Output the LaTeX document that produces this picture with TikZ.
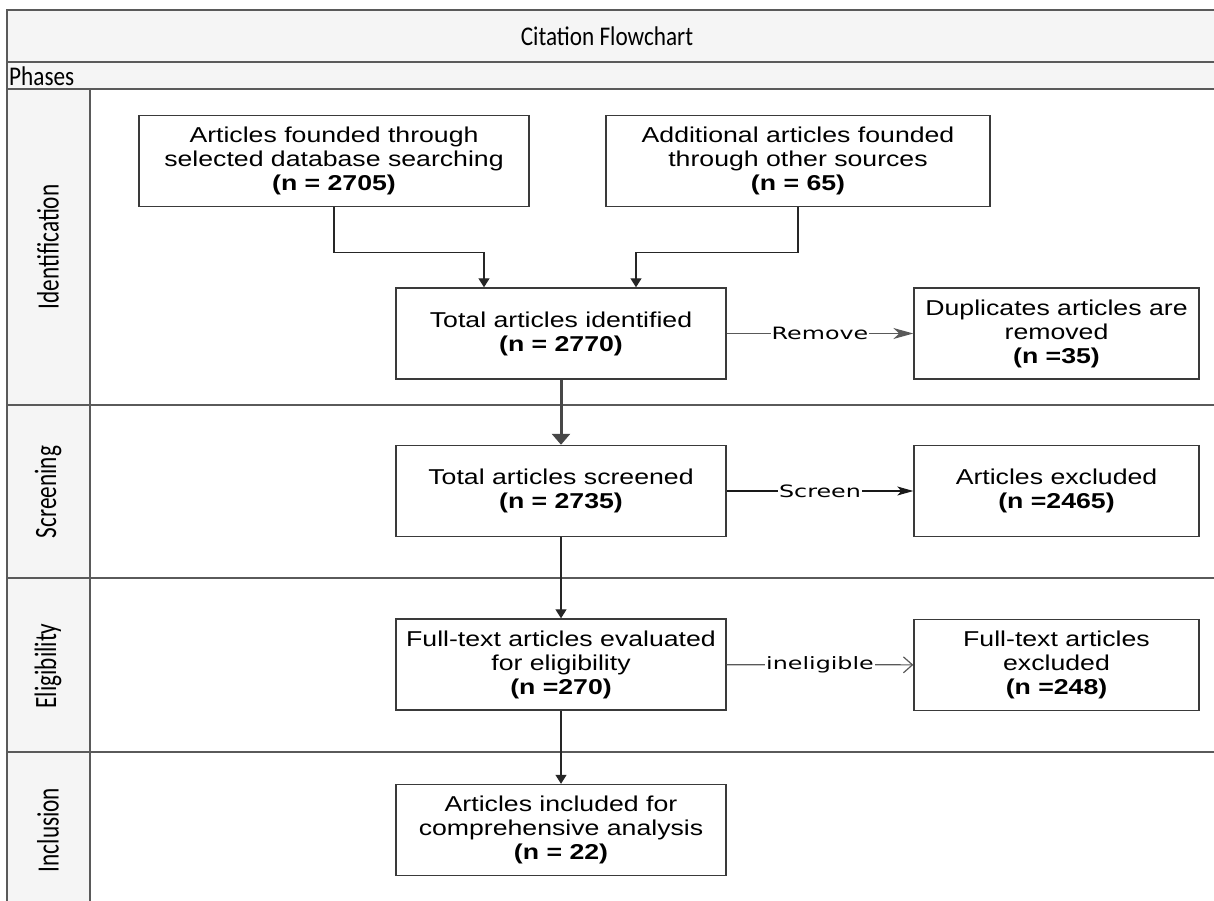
\documentclass[tikz,border=0pt]{standalone}
\usepackage{fontspec}
\setmainfont[FakeStretch=1.24]{Liberation Sans}
\newfontfamily\lanefont[FakeStretch=0.75]{Carlito}
\newfontfamily\titlefont[FakeStretch=0.86]{Carlito}
\newfontfamily\edgefont[FakeStretch=1.4]{DejaVu Sans}
\usetikzlibrary{arrows.meta}
\definecolor{framegray}{HTML}{5A5A5A}
\definecolor{bandgray}{HTML}{F5F5F5}
\definecolor{boxgray}{HTML}{3A3A3A}
\newlength{\boxheight}
\setlength{\boxheight}{91pt}
\newlength{\mainwidth}
\setlength{\mainwidth}{330pt}
\newlength{\sidewidth}
\setlength{\sidewidth}{285pt}

\begin{document}
\begin{tikzpicture}[x=1pt,y=-1pt]
  \tikzstyle{stage}=[
       draw=boxgray,
       line width=1.4pt,
       fill=white,
       align=center,
       minimum height=\boxheight,
       font=\fontsize{21.5}{24}\selectfont]
  \tikzstyle{lane}=[draw=framegray, line width=1.8pt]
  \tikzstyle{lanetext}=[rotate=90, font=\lanefont\fontsize{31}{32}\selectfont]
  \tikzstyle{flow}=[draw=black!85, line width=1.3pt,
       -{Triangle[length=9pt,width=11pt]}]
  \tikzstyle{edgelabel}=[fill=white, inner sep=1pt,
       font=\edgefont\fontsize{17}{19}\selectfont]
  \useasboundingbox (0,0) rectangle (1214,901);

  % frame and phase lanes
  \fill[bandgray] (7,10) rectangle (1214,89);
  \fill[bandgray] (7,89) rectangle (90,901);
  \draw[lane] (1214,10) -- (7,10) -- (7,901);
  \draw[lane] (7,62) -- (1214,62);
  \draw[lane] (7,89) -- (1214,89);
  \draw[lane] (90,89) -- (90,901);
  \foreach \y in {405,578,752}
    \draw[lane] (7,\y) -- (1214,\y);

  \node[font=\titlefont\fontsize{27}{28}\selectfont] (title) at (607,36) {Citation Flowchart};
  \node[anchor=west, inner sep=2pt, font=\titlefont\fontsize{27}{28}\selectfont] (phases) at (7,76) {Phases};
  \node[lanetext] (identification) at (48,247) {Identification};
  \node[lanetext] (screening) at (48,492) {Screening};
  \node[lanetext] (eligibility) at (48,666) {Eligibility};
  \node[lanetext] (inclusion) at (48,830) {Inclusion};

  % boxes
  \node[stage, minimum width=390pt] (database) at (334,161)
    {Articles founded through\\selected database searching\\\textbf{(n = 2705)}};
  \node[stage, minimum width=384pt] (othersrc) at (798,161)
    {Additional articles founded\\through other sources\\\textbf{(n = 65)}};
  \node[stage, minimum width=\mainwidth] (identified) at (561,333.5)
    {Total articles identified\\\textbf{(n = 2770)}};
  \node[stage, minimum width=\sidewidth] (duplicates) at (1056.5,333.5)
    {Duplicates articles are\\removed\\\textbf{(n =35)}};
  \node[stage, minimum width=\mainwidth] (screened) at (561,491)
    {Total articles screened\\\textbf{(n = 2735)}};
  \node[stage, minimum width=\sidewidth] (excluded) at (1056.5,491)
    {Articles excluded\\\textbf{(n =2465)}};
  \node[stage, minimum width=\mainwidth] (fulltext) at (561,664.5)
    {Full-text articles evaluated\\for eligibility\\\textbf{(n =270)}};
  \node[stage, minimum width=\sidewidth] (ftexcluded) at (1056.5,665)
    {Full-text articles\\excluded\\\textbf{(n =248)}};
  \node[stage, minimum width=\mainwidth] (included) at (561,830)
    {Articles included for\\comprehensive analysis\\\textbf{(n = 22)}};

  % connectors
  \draw[flow] (database.south) -- ++(0,45) -| ([xshift=-77pt]identified.north);
  \draw[flow] (othersrc.south) -- ++(0,45) -| ([xshift=75pt]identified.north);
  \draw[draw=black!72, line width=3pt, -{Triangle[length=11pt,width=18pt]}]
    (identified) -- (screened);
  \draw[draw=black!65, line width=1.5pt, -{Stealth[length=20pt,width=11pt,inset=6pt]}]
    (identified) -- node[edgelabel] {Remove} (duplicates);
  \draw[draw=black!90, line width=1.1pt, -{Stealth[length=16pt,width=9pt,inset=4pt]}]
    (screened) -- node[edgelabel] {Screen} (excluded);
  \draw[draw=black!65, line width=1.2pt, -{Straight Barb[length=9pt,width=16pt]}]
    (fulltext) -- node[edgelabel] {ineligible} (ftexcluded);
  \draw[flow] (screened) -- (fulltext);
  \draw[flow] (fulltext) -- (included);
\end{tikzpicture}
\end{document}
